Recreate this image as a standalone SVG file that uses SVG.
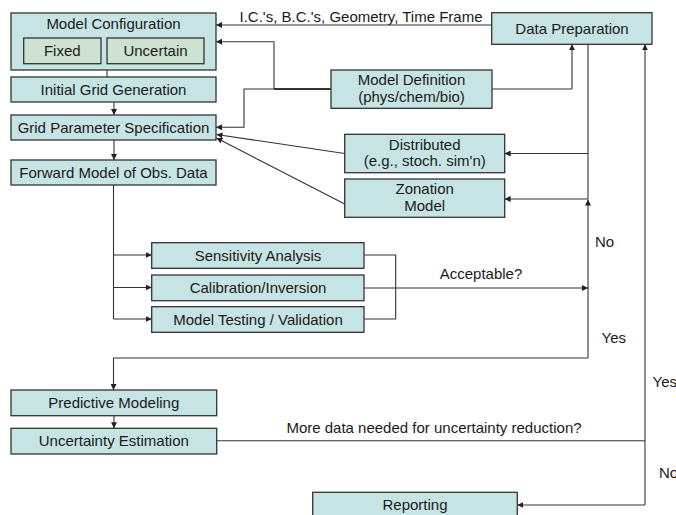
<svg xmlns="http://www.w3.org/2000/svg" width="676" height="515" viewBox="0 0 676 515">
<defs>
<marker id="ah" viewBox="0 0 10 10" refX="10" refY="5" markerWidth="6" markerHeight="6" markerUnits="userSpaceOnUse" orient="auto">
<path d="M0,0 L10,5 L0,10 z" fill="#222"/>
</marker>
<style>
.box{fill:#c6e4e4;stroke:#333;stroke-width:1.3}
.sub{fill:#cde2d1;stroke:#333;stroke-width:1.3}
text{font-family:"Liberation Sans",Arial,sans-serif;font-size:15px;fill:#1a1a1a}
.c{text-anchor:middle}
.ln{fill:none;stroke:#333;stroke-width:1.1}
.ar{fill:none;stroke:#333;stroke-width:1.1;marker-end:url(#ah)}
</style>
</defs>
<rect width="676" height="515" fill="#fff"/>
<g id="connectors">
<path class="ln" d="M107,70 V77"/>
<path class="ar" d="M114,102 V115"/>
<path class="ar" d="M114,140 V160"/>
<path class="ar" d="M491.7,25 H216"/>
<path class="ln" d="M492,89 H572"/>
<path class="ar" d="M572,89 V44.3"/>
<path class="ln" d="M274,89 H331" style="stroke-width:2.2"/>
<path class="ar" d="M274,89 V41.7 H216"/>
<path class="ar" d="M274,89 H244 V127.3 H216"/>
<path class="ar" d="M344.7,153.5 L216.5,134.5"/>
<path class="ar" d="M344.7,204 L216.5,138"/>
<path class="ln" d="M588,44.3 V199"/>
<path class="ar" d="M588,153.5 H504.7"/>
<path class="ar" d="M588,199 H504.7"/>
<path class="ar" d="M588,358 V199.5"/>
<path class="ar" d="M645,505 V44.3"/>
<path class="ar" d="M645,505 H517.3"/>
<path class="ln" d="M113.5,185 V319"/>
<path class="ar" d="M113.5,255 H151.7"/>
<path class="ar" d="M113.5,287.5 H151.7"/>
<path class="ar" d="M113.5,319 H151.7"/>
<path class="ln" d="M364,255 H395.7 V319 H364"/>
<path class="ar" d="M364,288 H588"/>
<path class="ar" d="M588,358 H113.5 V390"/>
<path class="ar" d="M114,415.7 V428.3"/>
<path class="ln" d="M216.7,440.7 H645"/>
<text x="361" y="22" class="c">I.C.'s, B.C.'s, Geometry, Time Frame</text>
<text x="481" y="279" class="c">Acceptable?</text>
<text x="595" y="247">No</text>
<text x="601.5" y="343">Yes</text>
<text x="652.5" y="387">Yes</text>
<text x="659" y="478">No</text>
<text x="434" y="432.5" class="c">More data needed for uncertainty reduction?</text>
</g>
<g id="model-configuration">
<rect class="box" x="11" y="13" width="205" height="57"/>
<text x="113.5" y="28.5" class="c">Model Configuration</text>
</g>
<g id="fixed">
<rect class="sub" x="23.7" y="38" width="77.3" height="25.7"/>
<text x="62.3" y="56" class="c">Fixed</text>
</g>
<g id="uncertain">
<rect class="sub" x="107" y="38" width="97" height="25.7"/>
<text x="155.5" y="56" class="c">Uncertain</text>
</g>
<g id="initial-grid">
<rect class="box" x="11" y="77" width="205" height="25"/>
<text x="113.5" y="94.5" class="c">Initial Grid Generation</text>
</g>
<g id="grid-parameter">
<rect class="box" x="11" y="115" width="205" height="25"/>
<text x="113.5" y="132.5" class="c">Grid Parameter Specification</text>
</g>
<g id="forward-model">
<rect class="box" x="11" y="160" width="205" height="25"/>
<text x="113.5" y="177.5" class="c">Forward Model of Obs. Data</text>
</g>
<g id="data-preparation">
<rect class="box" x="491.7" y="12.7" width="160.3" height="31.6"/>
<text x="572" y="33.5" class="c">Data Preparation</text>
</g>
<g id="model-definition">
<rect class="box" x="331" y="70" width="161" height="38.3"/>
<text x="411.5" y="85.3" class="c">Model Definition</text>
<text x="411.5" y="102" class="c">(phys/chem/bio)</text>
</g>
<g id="distributed">
<rect class="box" x="344.7" y="134.3" width="160" height="38.4"/>
<text x="424.7" y="149.5" class="c">Distributed</text>
<text x="424.7" y="166" class="c">(e.g., stoch. sim'n)</text>
</g>
<g id="zonation">
<rect class="box" x="344.7" y="179" width="160" height="38.3"/>
<text x="424.7" y="194.3" class="c">Zonation</text>
<text x="424.7" y="211" class="c">Model</text>
</g>
<g id="sensitivity">
<rect class="box" x="151.7" y="242.7" width="212.3" height="25.6"/>
<text x="258" y="260.5" class="c">Sensitivity Analysis</text>
</g>
<g id="calibration">
<rect class="box" x="151.7" y="275" width="212.3" height="25.7"/>
<text x="258" y="292.8" class="c">Calibration/Inversion</text>
</g>
<g id="testing">
<rect class="box" x="151.7" y="306.7" width="212.3" height="25.6"/>
<text x="258" y="324.5" class="c">Model Testing / Validation</text>
</g>
<g id="predictive">
<rect class="box" x="11" y="390" width="205.7" height="25.7"/>
<text x="113.8" y="408" class="c">Predictive Modeling</text>
</g>
<g id="uncertainty">
<rect class="box" x="11" y="428.3" width="205.7" height="25.7"/>
<text x="113.8" y="446" class="c">Uncertainty Estimation</text>
</g>
<g id="reporting">
<rect class="box" x="312.7" y="492.3" width="204.6" height="30"/>
<text x="415" y="510" class="c">Reporting</text>
</g>
</svg>
